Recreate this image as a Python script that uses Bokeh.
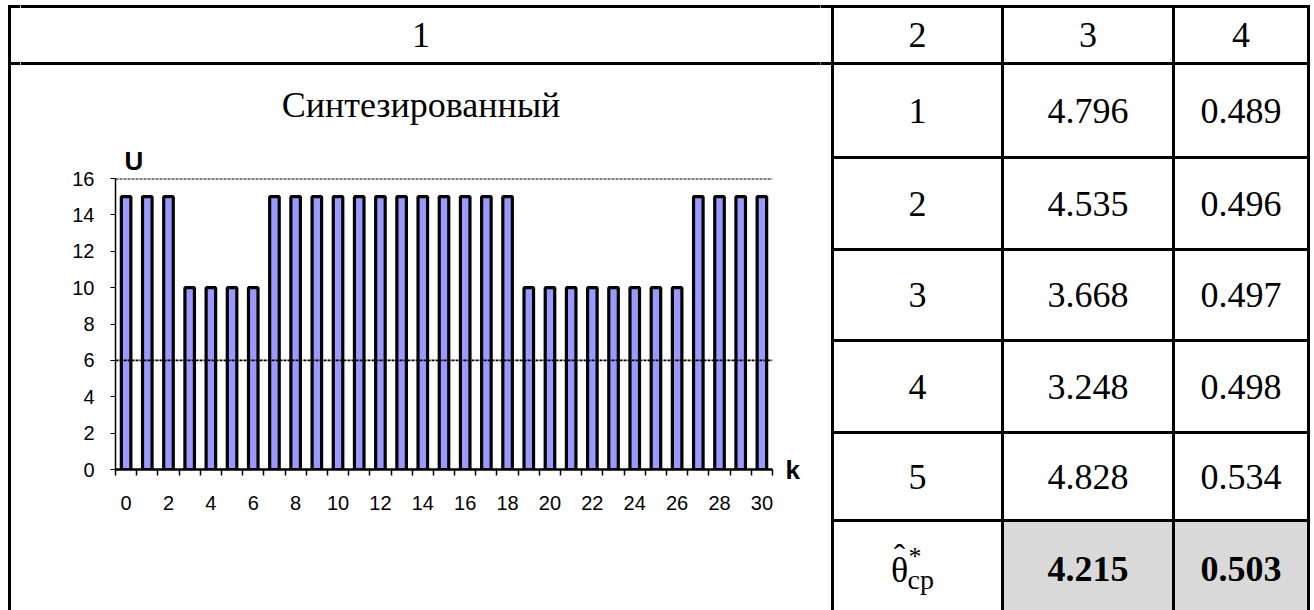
from bokeh.plotting import figure
from bokeh.layouts import row, column
from bokeh.models import Range1d, FixedTicker, LinearAxis, Span
from bokeh.core.properties import value
from bokeh.embed import file_html
from bokeh.resources import INLINE

# ---- chart data: synthesized signal U(k) ----
k = [0, 1, 2, 3, 4, 5, 6, 7, 8, 9, 10, 11, 12, 13, 14, 15,
     16, 17, 18, 19, 20, 21, 22, 23, 24, 25, 26, 27, 28, 29, 30]
u = [15, 15, 15, 10, 10, 10, 10, 15, 15, 15, 15, 15, 15, 15, 15, 15,
     15, 15, 15, 10, 10, 10, 10, 10, 10, 10, 10, 15, 15, 15, 15]
u_ticks = [0, 2, 4, 6, 8, 10, 12, 14, 16]
k_ticks = [0, 2, 4, 6, 8, 10, 12, 14, 16, 18, 20, 22, 24, 26, 28, 30]
levels = [16, 6]
chart_title = "Синтезированный"

# ---- table data ----
header = ["1", "2", "3", "4"]
run_no = ["1", "2", "3", "4", "5"]
theta = ["4.796", "4.535", "3.668", "3.248", "4.828"]
sigma = ["0.489", "0.496", "0.497", "0.498", "0.534"]
mean_theta = "4.215"
mean_sigma = "0.503"

# ---- page geometry (pixels) ----
W, H = 1314, 610
col_x = [9, 832, 1002, 1173, 1308]
row_y = [6, 63, 157, 249, 340, 432, 520, 616]
STRIP = 20          # left strip carrying the outer border
LEFT_W = 820        # end of the left block
CHART_TOP = 140
TXT = 0             # baseline offset from a cell's middle

SERIF = value("Liberation Serif")
SANS = "Liberation Sans"
LW = 3


def panel(x0, x1, y0, y1):
    f = figure(width=x1 - x0, height=y1 - y0,
               x_range=Range1d(x0, x1), y_range=Range1d(y1, y0),
               x_axis_type=None, y_axis_type=None,
               output_backend="svg", toolbar_location=None,
               min_border=0, outline_line_color=None, frame_align=False,
               background_fill_color="white", border_fill_color="white")
    f.grid.visible = False
    return f


def mid(a, b):
    return (a + b) / 2


# left strip with the outer border
strip = panel(0, STRIP, 0, H)
strip.segment(x0=[col_x[0]], y0=[row_y[0]], x1=[col_x[0]], y1=[H + 5],
              line_color="black", line_width=LW, line_cap="square")
strip.segment(x0=[col_x[0], col_x[0]], y0=[row_y[0], row_y[1]],
              x1=[STRIP, STRIP], y1=[row_y[0], row_y[1]],
              line_color="black", line_width=LW, line_cap="square")

# top of the left block: header "1" and the chart caption
top = panel(STRIP, LEFT_W, 0, CHART_TOP)
top.segment(x0=[STRIP, STRIP], y0=[row_y[0], row_y[1]],
            x1=[LEFT_W, LEFT_W], y1=[row_y[0], row_y[1]],
            line_color="black", line_width=LW)
cx1 = mid(col_x[0], col_x[1])
top.text(x=[cx1], y=[mid(row_y[0], row_y[1]) + TXT], text=[header[0]],
         text_font=SERIF, text_font_size="36px", text_color="black",
         text_align="center", text_baseline="alphabetic")
top.text(x=[cx1], y=[104], text=[chart_title],
         text_font=SERIF, text_font_size="36px", text_color="black",
         text_align="center", text_baseline="alphabetic")

# the bar chart
frame_l, frame_r, frame_t, frame_b = 115, 772, 178, 469
chart = figure(width=LEFT_W - STRIP, height=H - CHART_TOP,
               x_range=Range1d(-0.5, 30.5), y_range=Range1d(0, 16),
               output_backend="svg", toolbar_location=None, frame_align=False,
               min_border_left=frame_l - STRIP, min_border_right=LEFT_W - frame_r,
               min_border_top=frame_t - CHART_TOP, min_border_bottom=H - frame_b,
               outline_line_color=None, title="U")
chart.grid.visible = False
chart.title.align = "left"
chart.title.offset = 9
chart.title.text_font = SANS
chart.title.text_font_size = "26px"
chart.title.text_font_style = "bold"
chart.title.text_color = "black"
chart.title.standoff = 6

chart.vbar(x=k, top=u, width=0.45, bottom=0,
           fill_color="#9999ff", line_color="black", line_width=3.2)
for lvl in levels:
    chart.add_layout(Span(location=lvl, dimension="width", line_color="black",
                          line_dash="3 1", line_width=1.8))

xa = chart.xaxis[0]
xa.ticker = FixedTicker(ticks=k_ticks, minor_ticks=[v - 0.5 for v in k] + [k[-1] + 0.5])
xa.major_tick_out = 0
xa.major_tick_in = 0
xa.minor_tick_out = 6
xa.minor_tick_in = 0
xa.minor_tick_line_color = "black"
xa.minor_tick_line_width = 1.5
xa.axis_line_color = "black"
xa.axis_line_width = 2.5
xa.major_label_standoff = 20
xa.major_label_text_font = SANS
xa.major_label_text_font_size = "20px"
xa.major_label_text_color = "black"

ya = chart.yaxis[0]
ya.ticker = FixedTicker(ticks=u_ticks)
ya.minor_tick_line_color = None
ya.major_tick_out = 5
ya.major_tick_in = 0
ya.major_tick_line_color = "black"
ya.axis_line_color = "black"
ya.axis_line_width = 1.5
ya.major_label_standoff = 16
ya.major_label_text_font = SANS
ya.major_label_text_font_size = "20px"
ya.major_label_text_color = "black"

k_axis = LinearAxis(ticker=FixedTicker(ticks=[0]), major_label_overrides={0: "k"},
                    axis_line_color=None, major_tick_line_color=None,
                    minor_tick_line_color=None, major_tick_out=0, major_tick_in=0,
                    major_label_standoff=13, major_label_text_font=SANS,
                    major_label_text_font_size="26px",
                    major_label_text_font_style="bold",
                    major_label_text_color="black")
chart.add_layout(k_axis, "right")

# right block of the table
right = panel(LEFT_W, W, 0, H)
right.quad(left=[col_x[2], col_x[3]], right=[col_x[3], col_x[4]],
           top=[row_y[6], row_y[6]], bottom=[row_y[7], row_y[7]],
           fill_color="#d9d9d9", line_color=None)
right.segment(x0=[LEFT_W, LEFT_W], y0=[row_y[0], row_y[1]],
              x1=[col_x[4], col_x[4]], y1=[row_y[0], row_y[1]],
              line_color="black", line_width=LW, line_cap="square")
inner = row_y[2:7]
right.segment(x0=[col_x[1]] * len(inner), y0=inner,
              x1=[col_x[4]] * len(inner), y1=inner,
              line_color="black", line_width=LW)
verts = col_x[1:]
right.segment(x0=verts, y0=[row_y[0]] * len(verts), x1=verts, y1=[H + 5] * len(verts),
              line_color="black", line_width=LW, line_cap="square")

centers = [mid(col_x[i], col_x[i + 1]) for i in range(1, 4)]
right.text(x=centers, y=[mid(row_y[0], row_y[1]) + TXT] * 3, text=header[1:],
           text_font=SERIF, text_font_size="36px", text_color="black",
           text_align="center", text_baseline="alphabetic")
row_base = [mid(row_y[i], row_y[i + 1]) + TXT for i in range(1, 6)]
for cx, col in zip(centers, [run_no, theta, sigma]):
    right.text(x=[cx] * len(col), y=row_base, text=col,
               text_font=SERIF, text_font_size="36px", text_color="black",
               text_align="center", text_baseline="alphabetic")
# averaged estimates
right.text(x=centers[1:], y=[568, 568], text=[mean_theta, mean_sigma],
           text_font=SERIF, text_font_size="36px", text_font_style="bold",
           text_color="black", text_align="center", text_baseline="alphabetic")
# theta-hat-star with subscript
right.text(x=[899], y=[569], text=["θ"], text_font=SERIF, text_font_size="36px",
           text_color="black", text_align="center", text_baseline="alphabetic")
right.text(x=[899], y=[556], text=["ˆ"], text_font=SERIF, text_font_size="34px",
           text_color="black", text_align="center", text_baseline="alphabetic")
right.text(x=[908], y=[556], text=["*"], text_font=SERIF, text_font_size="26px",
           text_color="black", text_align="left", text_baseline="alphabetic")
right.text(x=[907], y=[579], text=["cp"], text_font=SERIF, text_font_size="28px",
           text_color="black", text_align="left", text_baseline="alphabetic")

page = row(strip, column(top, chart, spacing=0), right, spacing=0)
open("out.html", "w").write(file_html(page, INLINE))
